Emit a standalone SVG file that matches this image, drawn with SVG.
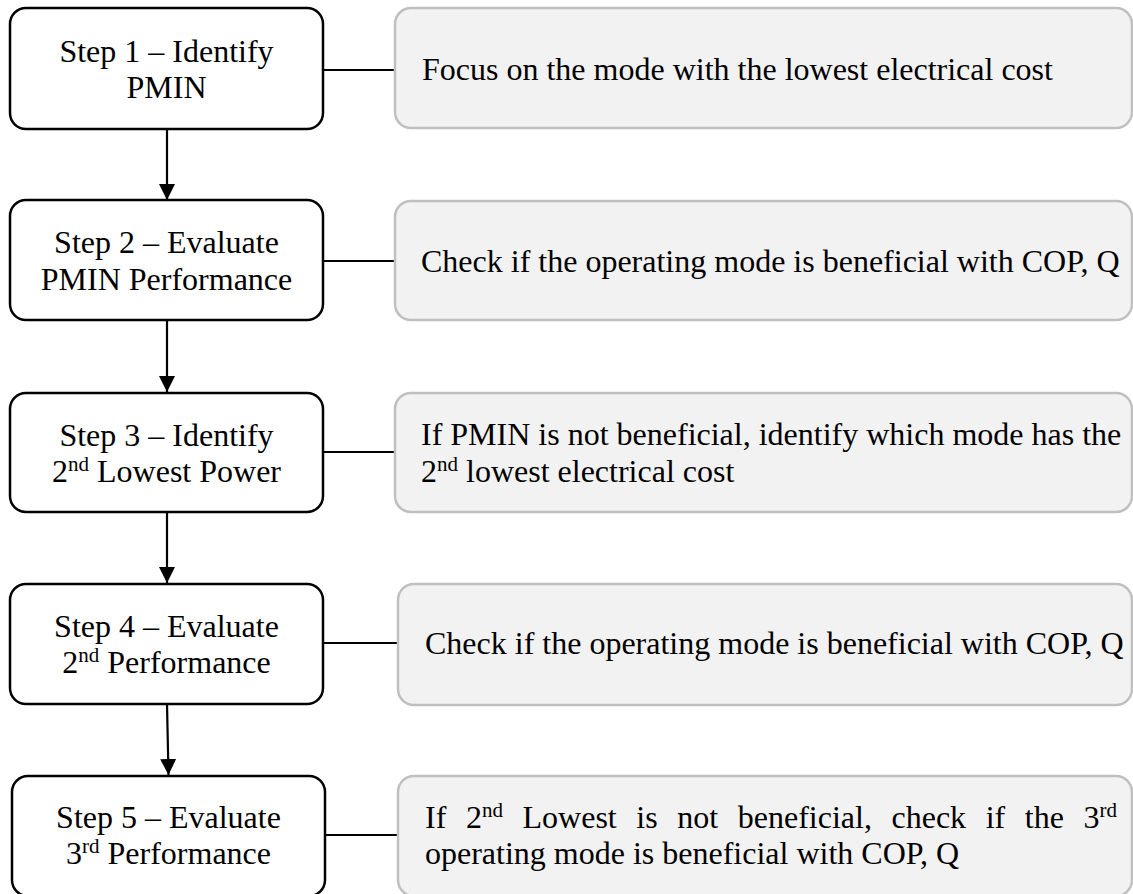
<svg xmlns="http://www.w3.org/2000/svg" width="1133" height="894" viewBox="0 0 1133 894">
  <style>
    .step { fill: #ffffff; stroke: #000000; stroke-width: 2.5; }
    .note { fill: #f2f2f2; stroke: #bfbfbf; stroke-width: 2.5; }
    .lbl { font-family: "Liberation Serif", "Times New Roman", serif; font-size: 32px; fill: #000000; }
    .mid { text-anchor: middle; }
    .sup { font-size: 21px; }
    .wire { stroke: #000000; stroke-width: 2.2; fill: none; }
  </style>
  <defs>
    <marker id="arrow" viewBox="0 0 16 16" refX="16" refY="8" markerWidth="16" markerHeight="16" markerUnits="userSpaceOnUse" orient="auto">
      <path d="M0,0 L16,8 L0,16 Z" fill="#000000"/>
    </marker>
  </defs>

  <!-- connectors -->
  <g id="connectors">
    <line class="wire" x1="167" y1="129" x2="167" y2="200" marker-end="url(#arrow)"/>
    <line class="wire" x1="167" y1="320" x2="167" y2="392" marker-end="url(#arrow)"/>
    <line class="wire" x1="167" y1="512" x2="167" y2="583" marker-end="url(#arrow)"/>
    <line class="wire" x1="167" y1="704" x2="168.5" y2="775" marker-end="url(#arrow)"/>
    <line class="wire" x1="323" y1="70" x2="395" y2="70"/>
    <line class="wire" x1="323" y1="261" x2="395" y2="261"/>
    <line class="wire" x1="323" y1="452" x2="395" y2="452"/>
    <line class="wire" x1="323" y1="643" x2="398" y2="643"/>
    <line class="wire" x1="325" y1="835" x2="398" y2="835"/>
  </g>

  <!-- step boxes -->
  <g id="step1">
    <rect class="step" x="10" y="8" width="313" height="121" rx="16"/>
    <text class="lbl mid" x="166.5" y="62">Step 1 – Identify</text>
    <text class="lbl mid" x="166.5" y="98">PMIN</text>
  </g>
  <g id="step2">
    <rect class="step" x="10" y="200" width="313" height="120" rx="16"/>
    <text class="lbl mid" x="166.5" y="253">Step 2 – Evaluate</text>
    <text class="lbl mid" x="166.5" y="290">PMIN Performance</text>
  </g>
  <g id="step3">
    <rect class="step" x="10" y="393" width="313" height="119" rx="16"/>
    <text class="lbl mid" x="166.5" y="446">Step 3 – Identify</text>
    <text class="lbl mid" x="166.5" y="482">2<tspan class="sup" dy="-11">nd</tspan><tspan dy="11"> Lowest Power</tspan></text>
  </g>
  <g id="step4">
    <rect class="step" x="10" y="584" width="313" height="120" rx="16"/>
    <text class="lbl mid" x="166.5" y="637">Step 4 – Evaluate</text>
    <text class="lbl mid" x="166.5" y="673">2<tspan class="sup" dy="-11">nd</tspan><tspan dy="11"> Performance</tspan></text>
  </g>
  <g id="step5">
    <rect class="step" x="12" y="776" width="313" height="120" rx="16"/>
    <text class="lbl mid" x="168.5" y="828">Step 5 – Evaluate</text>
    <text class="lbl mid" x="168.5" y="864">3<tspan class="sup" dy="-11">rd</tspan><tspan dy="11"> Performance</tspan></text>
  </g>

  <!-- explanation boxes -->
  <g id="note1">
    <rect class="note" x="395" y="8" width="737" height="120" rx="16"/>
    <text class="lbl" x="422" y="80">Focus on the mode with the lowest electrical cost</text>
  </g>
  <g id="note2">
    <rect class="note" x="395" y="201" width="737" height="119" rx="16"/>
    <text class="lbl" x="421" y="272">Check if the operating mode is beneficial with COP, Q</text>
  </g>
  <g id="note3">
    <rect class="note" x="395" y="393" width="737" height="119" rx="16"/>
    <text class="lbl" x="421" y="445">If PMIN is not beneficial, identify which mode has the</text>
    <text class="lbl" x="421" y="482">2<tspan class="sup" dy="-11">nd</tspan><tspan dy="11"> lowest electrical cost</tspan></text>
  </g>
  <g id="note4">
    <rect class="note" x="398" y="584" width="734" height="121" rx="16"/>
    <text class="lbl" x="425" y="654">Check if the operating mode is beneficial with COP, Q</text>
  </g>
  <g id="note5">
    <rect class="note" x="398" y="776" width="734" height="120" rx="16"/>
    <text class="lbl" x="425" y="828" word-spacing="11.6">If 2<tspan class="sup" dy="-11">nd</tspan><tspan dy="11"> Lowest is not beneficial, check if the 3</tspan><tspan class="sup" dy="-11">rd</tspan></text>
    <text class="lbl" x="425" y="864">operating mode is beneficial with COP, Q</text>
  </g>
</svg>
